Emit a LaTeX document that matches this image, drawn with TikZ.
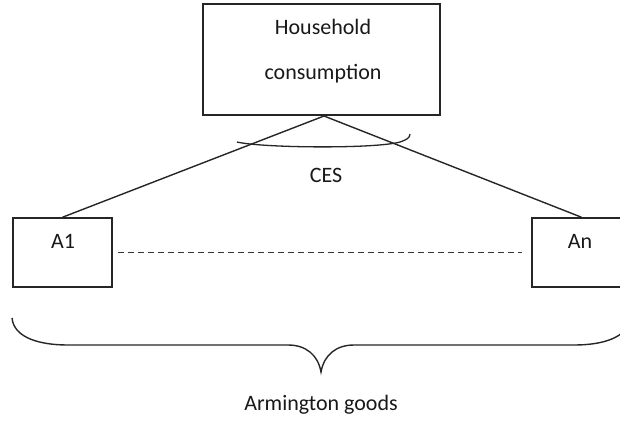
\documentclass[tikz,border=0pt]{standalone}
\usepackage{fontspec}
\setmainfont{Carlito}
\begin{document}
\begin{tikzpicture}[x=1pt, y=-1pt,
    box/.style={draw, line width=1.5pt, draw=black!85, rectangle, inner sep=0pt},
    txt/.style={font=\fontsize{22}{26}\selectfont, inner sep=0pt, text=black!90},
    conn/.style={line width=1.4pt, draw=black!85}]
  \clip (0,0) rectangle (620,421);
  \fill[white] (0,0) rectangle (620,421);

  % top node: household consumption
  \node[box, minimum width=237pt, minimum height=111pt] (hh) at (321.5,59.5) {};
  \node[txt] (hht1) at (323,27) {Household};
  \node[txt] (hht2) at (323,74) {consumption};

  % Armington goods boxes
  \node[box, minimum width=99pt, minimum height=69pt] (a1) at (62.5,252.5) {};
  \node[txt] (a1t) at (63,241) {A1};
  \node[box, minimum width=99pt, minimum height=69pt] (an) at (581.5,252.5) {};
  \node[txt] (ant) at (580,241) {An};

  % CES nest branches
  \coordinate (apex) at (324,116);
  \draw[conn] (apex) -- (a1.north);
  \draw[conn] (apex) -- (an.north);

  % elasticity arc
  \draw[line width=1.3pt, draw=black!85]
    (237,142) .. controls (262,148) and (375,149) .. (400,142)
    .. controls (406,140) and (410,138) .. (410,134);
  \node[txt] (ces) at (326,175) {CES};

  % ellipsis between the goods
  \draw[line width=1.4pt, draw=black!80, dash pattern=on 6pt off 4pt]
    ([xshift=5pt]a1.east) -- ([xshift=-9pt]an.west);

  % brace grouping the goods
  \coordinate (btip) at (321,372);
  \draw[line width=1.4pt, draw=black!85]
    (12,318) .. controls (14,338) and (40,345) .. (68,345) -- (288,345)
    .. controls (306,345) and (318,355) .. (btip)
    .. controls (324,355) and (336,345) .. (354,345) -- (574,345)
    .. controls (602,345) and (628,338) .. (630,318);
  \node[txt] (arm) at (321,405) {Armington goods};
\end{tikzpicture}
\end{document}
